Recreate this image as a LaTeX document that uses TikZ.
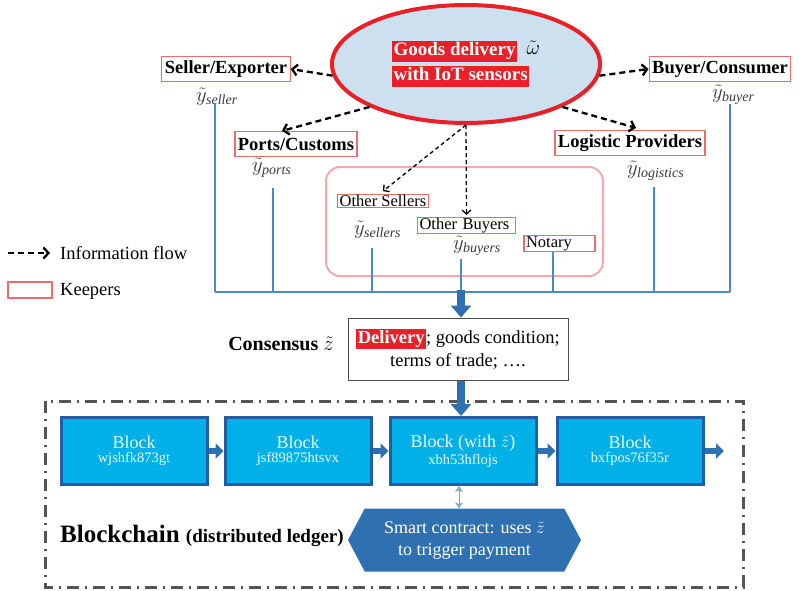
\documentclass[tikz,border=0pt]{standalone}
\usepackage{fontspec}
\setmainfont{Liberation Serif}
\usetikzlibrary{arrows.meta,shapes.geometric,shapes.symbols,calc}
\definecolor{ellfill}{RGB}{205,224,240}
\definecolor{redb}{RGB}{232,32,40}
\definecolor{keeperc}{RGB}{232,110,110}
\definecolor{pinkb}{RGB}{242,170,170}
\definecolor{lineblue}{RGB}{70,140,205}
\definecolor{darkblue}{RGB}{46,112,176}
\definecolor{cyanb}{RGB}{0,176,230}
\definecolor{blockedge}{RGB}{30,95,160}
\definecolor{framegray}{RGB}{85,85,85}
\definecolor{labgray}{RGB}{55,55,70}
\newcommand\hlt[1]{{\setlength{\fboxsep}{1.5pt}\colorbox{redb}{\rule[-4.5pt]{0pt}{15.5pt}\textcolor{white}{\bfseries #1}}}}
\begin{document}
\begin{tikzpicture}[x=1pt,y=-1pt,
  keeper/.style={draw=keeperc, line width=1.2pt, fill=white, inner xsep=3pt, inner ysep=2pt},
  keeperbig/.style={keeper, font=\bfseries\fontsize{18.5}{20}\selectfont, minimum height=25pt},
  keepersmall/.style={keeper, font=\fontsize{16.5}{18}\selectfont, inner ysep=0.5pt, inner xsep=2pt},
  ylab/.style={anchor=west, inner sep=0pt, text=labgray, font=\fontsize{20}{22}\selectfont},
  infoarrow/.style={black, line width=2.3pt, dash pattern=on 6pt off 4pt, -{Straight Barb[length=5pt,width=11pt,line width=2.3pt]}},
  thinarrow/.style={black, line width=1.3pt, dash pattern=on 4pt off 3pt, -{Straight Barb[length=4pt,width=9pt,line width=1.3pt]}},
  busline/.style={lineblue, line width=1.3pt},
  fatarrow/.style={darkblue, line width=8pt, -{Triangle[length=12pt,width=20pt]}},
  blockarrow/.style={darkblue, line width=6pt, -{Triangle[length=8pt,width=15pt]}},
  blockbox/.style={draw=blockedge, line width=3pt, fill=cyanb, minimum width=146pt, minimum height=67pt, align=center, text=white!92!cyanb},
]
\useasboundingbox (0,0) rectangle (800,590);

% ellipse
\node[ellipse, draw=redb, line width=4pt, fill=ellfill, minimum width=268pt, minimum height=118pt, align=left, font=\fontsize{19}{25}\selectfont] (goods) at (466,64)
  {\hlt{Goods delivery}~~\raisebox{1pt}{\fontsize{21}{21}\selectfont$\tilde{\omega}$}\\\hlt{with IoT sensors}};

% keepers
\node[keeperbig] (seller) at (226,69) {Seller/Exporter};
\node[keeperbig] (buyer) at (720,69) {Buyer/Consumer};
\node[keeperbig] (ports) at (296,144) {Ports/Customs};
\node[keeperbig] (logi) at (630,143) {Logistic Providers};

% group
\node[draw=pinkb, line width=2pt, rounded corners=14pt, minimum width=277pt, minimum height=109pt] (grp) at (464.5,221.5) {};
\node[keepersmall] (osell) at (383,201) {Other Sellers};
\node[keepersmall, text width=94pt, align=left] (obuy) at (466.5,225.5) {Other Buyers};
\node[keepersmall, text width=67pt, align=left] (notary) at (559.5,243.5) {Notary};

% y labels
\node[ylab] (yseller) at (196,97) {$\tilde{y}_{\mathit{seller}}$};
\node[ylab] (ybuyer) at (712,95) {$\tilde{y}_{\mathit{buyer}}$};
\node[ylab] (yports) at (252,168) {$\tilde{y}_{\mathit{ports}}$};
\node[ylab] (ylogi) at (627,171) {$\tilde{y}_{\mathit{logistics}}$};
\node[ylab] (ysellers) at (354,230) {$\tilde{y}_{\mathit{sellers}}$};
\node[ylab] (ybuyers) at (453,246) {$\tilde{y}_{\mathit{buyers}}$};

% info arrows
\draw[infoarrow] (goods.185) -- (seller.east);
\draw[infoarrow] (goods.355) -- (buyer.west);
\draw[infoarrow] (goods.204) -- ($(ports.north)+(-14,0)$);
\draw[infoarrow] (goods.336) -- ($(logi.north)+(6,-2)$);
\draw[thinarrow] (goods.south) -- ($(osell.north)+(0,-3)$);
\draw[thinarrow] (goods.south) -- ($(obuy.north)+(0,-2)$);

% bus
\coordinate (b1) at (215,292);
\coordinate (b2) at (273,292);
\coordinate (b3) at (372,292);
\coordinate (b4) at (461,292);
\coordinate (b5) at (553,292);
\coordinate (b6) at (654,292);
\coordinate (b7) at (730,292);
\draw[busline] (b1) -- (b7);
\draw[busline] (215,104) -- (b1);
\draw[busline] (273,188) -- (b2);
\draw[busline] (372,248) -- (b3);
\draw[busline] (461,259) -- (b4);
\draw[busline] (notary.south -| b5) -- (b5);
\draw[busline] (654,187) -- (b6);
\draw[busline] (730,104) -- (b7);

% consensus
\node[draw=gray!60!black, line width=1pt, fill=white, minimum width=220pt, minimum height=62pt, align=center, font=\fontsize{18.5}{23}\selectfont] (cons) at (458,349)
  {\hlt{Delivery}; goods condition;\\terms of trade; ….};
\node[font=\bfseries\fontsize{20}{22}\selectfont, inner sep=0pt] (conslab) at (281,344) {Consensus $\tilde{z}$};
\draw[fatarrow] ($(b4)+(0,-2)$) -- (cons.north -| b4);

% frame
\draw[framegray, line width=3pt, dash pattern=on 12pt off 6pt on 2pt off 6pt] (45,401) rectangle (743,587);

% blocks
\node[blockbox] (bk1) at (134,451) {{\fontsize{18}{20}\selectfont Block}\\[2pt]{\fontsize{14.5}{16}\selectfont wjshfk873gt}};
\node[blockbox] (bk2) at (298,451) {{\fontsize{18}{20}\selectfont Block}\\[2pt]{\fontsize{14.5}{16}\selectfont jsf89875htsvx}};
\node[blockbox] (bk3) at (463,451) {{\fontsize{18}{20}\selectfont Block (with $\tilde{z}$)}\\[2pt]{\fontsize{14.5}{16}\selectfont xbh53hflojs}};
\node[blockbox] (bk4) at (630,451) {{\fontsize{18}{20}\selectfont Block}\\[2pt]{\fontsize{14.5}{16}\selectfont bxfpos76f35r}};
\draw[fatarrow] (cons.south -| b4) -- (bk3.north -| b4);
\draw[blockarrow] (bk1.east) -- (bk2.west);
\draw[blockarrow] (bk2.east) -- (bk3.west);
\draw[blockarrow] (bk3.east) -- (bk4.west);
\coordinate (bend) at (724,451);
\draw[blockarrow] (bk4.east) -- (bend);

% smart contract
\node[signal, signal to=west and east, signal pointer angle=124, fill=darkblue, minimum width=233pt, minimum height=63pt, inner sep=0pt, align=center, text=white, font=\fontsize{18}{22}\selectfont] (sc) at (464.5,540)
  {Smart contract: uses $\tilde{z}$\\to trigger payment};
\draw[lineblue!80, line width=1pt, {Stealth[open,length=6pt,width=8pt]}-{Stealth[open,length=6pt,width=8pt]}] (bk3.south -| 459,0) -- (sc.north -| 459,0);

\node[font=\bfseries\fontsize{25}{28}\selectfont, inner sep=0pt] (bclab) at (202,536) {Blockchain {\fontsize{19}{20}\selectfont (distributed ledger)}};

% legend
\coordinate (lg1) at (8,253);
\coordinate (lg2) at (50,253);
\draw[infoarrow] (lg1) -- (lg2);
\node[anchor=west, font=\fontsize{18.5}{20}\selectfont, inner sep=0pt] (lgt1) at (60,253) {Information flow};
\node[keeper, minimum width=44pt, minimum height=16pt, inner sep=0pt] (lgk) at (30,290) {};
\node[anchor=west, font=\fontsize{18.5}{20}\selectfont, inner sep=0pt] (lgt2) at (60,291) {Keepers};
\end{tikzpicture}
\end{document}
